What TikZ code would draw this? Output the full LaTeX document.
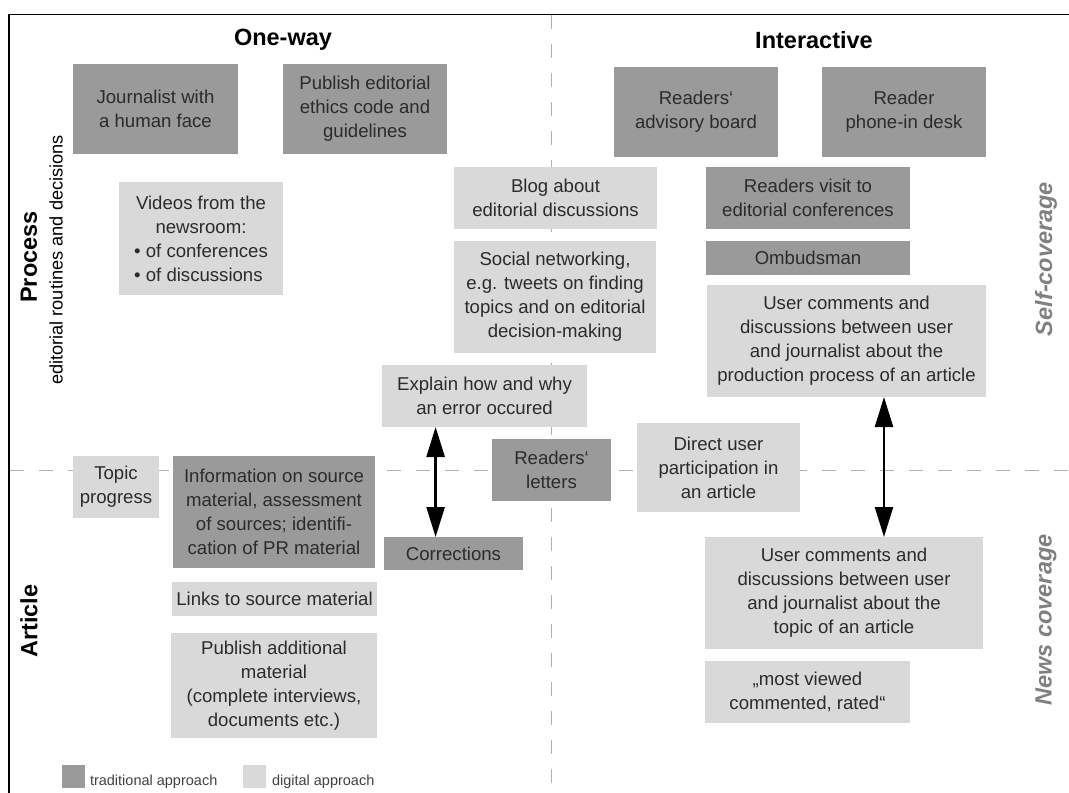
\documentclass[tikz,border=0pt]{standalone}
\usepackage{fontspec}
\setmainfont{Liberation Sans}
\usetikzlibrary{fit}
\usetikzlibrary{arrows.meta}
\definecolor{tradgray}{HTML}{9A9A9A}
\definecolor{digigray}{HTML}{D9D9D9}
\definecolor{boxtext}{HTML}{2B2B2B}
\definecolor{axisgray}{HTML}{808080}
\definecolor{dashgray}{HTML}{B0B0B0}

\begin{document}
\begin{tikzpicture}[x=1pt, y=-1pt,
  trad/.style={fill=tradgray, rectangle},
  digi/.style={fill=digigray, rectangle},
  every label/.style={align=center, text=boxtext, font=\fontsize{18.6}{24}\selectfont},
  heading/.style={font=\fontsize{23.5}{28}\selectfont\bfseries},
  side/.style={font=\fontsize{23.5}{28}\selectfont\bfseries\itshape, text=axisgray, rotate=90},
  legend/.style={font=\fontsize{14.5}{17}\selectfont, text=black!75},
  arr/.style={line width=2.5pt, {Triangle[length=30pt,width=18pt]}-{Triangle[length=30pt,width=18pt]}},
]
\useasboundingbox (0,0) rectangle (1069,793);

% quadrants
\draw[dashgray, line width=1.5pt, dash pattern=on 14pt off 15pt]
  (551.7,15) -- (551.7,793)
  (10,470.7) -- (1069,470.7);
\draw[line width=1.3pt]
  (1069,14.5) -- (9,14.5) -- (9,793);

\node (oneway) [heading] at (283,40) {One-way};
\node (interact) [heading] at (814,40) {Interactive};

\node (process) [heading, rotate=90] at (29,257) {Process};
\node (routines) [font=\fontsize{18.2}{22}\selectfont, rotate=90] at (56,260) {editorial routines and decisions};
\node (article) [heading, rotate=90] at (29,621) {Article};
\node (selfcov) [side] at (1046,259) {Self-coverage};
\node (newscov) [side] at (1046,620) {News coverage};

\begin{scope}[inner sep=0pt, outer sep=0pt]
  % one-way
  \node (journ) [trad, fit={(73,64) (238,154)}, label=center:{Journalist with\\a human face}] {};
  \node (ethics) [trad, fit={(283,64) (447,154)}, label=center:{Publish editorial\\ethics code and\\guidelines}] {};
  \node (videos) [digi, fit={(119,182) (283,295)}, label=center:{Videos from the\\newsroom:\\• of conferences\\• of discussions\hphantom{f}}] {};
  \node (blog) [digi, fit={(454,167) (657,229)}, label=center:{Blog about\\editorial discussions}] {};
  \node (social) [digi, fit={(454,241) (656,353)}, label=center:{Social networking,\\e.g. tweets on finding\\topics and on editorial\\decision-making}] {};
  \node (explain) [digi, fit={(382,365) (587,427)}, label=center:{Explain how and why\\an error occured}] {};
  \node (topic) [digi, fit={(73,456) (159,518)}, label=center:{Topic\\progress}] {};
  \node (info) [trad, fit={(173,456) (375,568)}, label=center:{Information on source\\material, assessment\\of sources; identifi-\\cation of PR material}] {};
  \node (corr) [trad, fit={(384,537) (523,570)}, label=center:{Corrections}] {};
  \node (letters) [trad, fit={(492,439) (611,501)}, label=center:{Readers‘\\letters}] {};
  \node (links) [digi, fit={(172,582) (377,616)}, label=center:{Links to source material}] {};
  \node (addmat) [digi, fit={(171,633) (377,738)}, label=center:{Publish additional\\material\\(complete interviews,\\documents etc.)}] {};

  % interactive
  \node (advboard) [trad, fit={(614,67) (778,157)}, label=center:{Readers‘\\advisory board}] {};
  \node (phonein) [trad, fit={(822,67) (986,157)}, label=center:{Reader\\phone-in desk}] {};
  \node (visit) [trad, fit={(706,167) (910,229)}, label=center:{Readers visit to\\editorial conferences}] {};
  \node (ombud) [trad, fit={(706,241) (910,275)}, label=center:{Ombudsman}] {};
  \node (ucproc) [digi, fit={(707,285) (986,397)}, label=center:{User comments and\\discussions between user\\and journalist about the\\production process of an article}] {};
  \node (direct) [digi, fit={(637,423) (800,512)}, label=center:{Direct user\\participation in\\an article}] {};
  \node (uctopic) [digi, fit={(705,537) (983,649)}, label=center:{User comments and\\discussions between user\\and journalist about the\\topic of an article}] {};
  \node (mostview) [digi, fit={(705,661) (910,723)}, label=center:{„most viewed\\commented, rated“}] {};

  % legend
  \node (legtrad) [trad, fit={(62,765) (85,788)}] {};
  \node (legtradtxt) [legend, anchor=south west, xshift=5pt] at (legtrad.south east) {traditional approach};
  \node (legdigi) [digi, fit={(243,765) (266,788)}] {};
  \node (legdigitxt) [legend, anchor=south west, xshift=6pt] at (legdigi.south east) {digital approach};
\end{scope}

\draw[arr] (435.6,0 |- explain.south) -- (435.6,0 |- corr.north);
\draw[arr] (884,0 |- ucproc.south) -- (884,0 |- uctopic.north);

\end{tikzpicture}
\end{document}
